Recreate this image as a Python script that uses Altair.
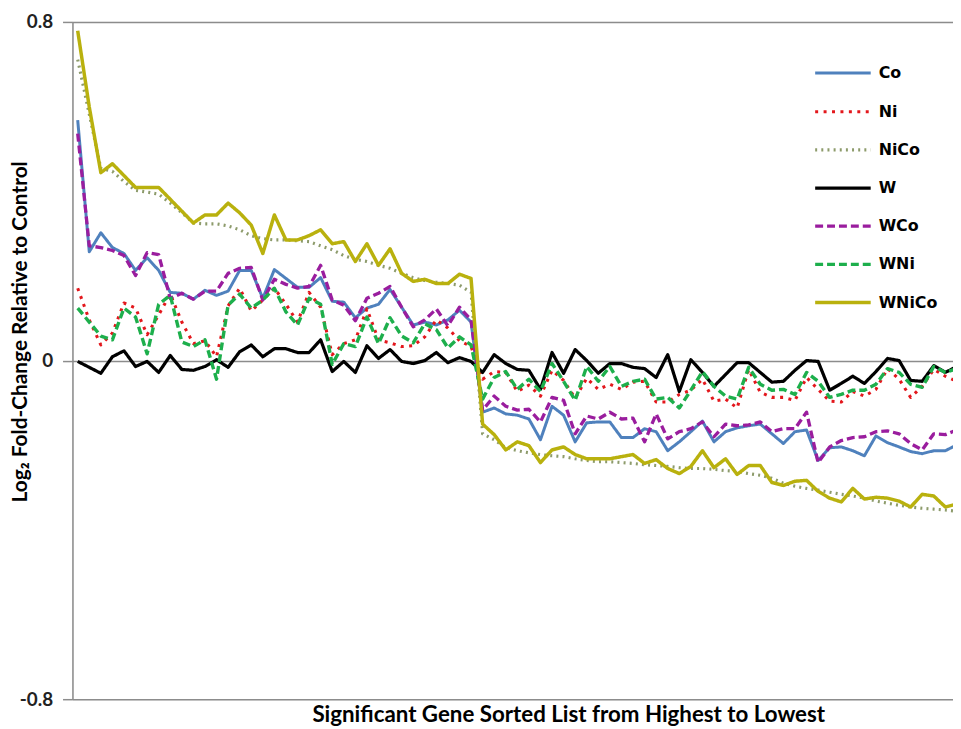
import altair as alt
import pandas as pd

series_names = ["Co", "Ni", "NiCo", "W", "WCo", "WNi", "WNiCo"]
gene_rank = list(range(77))

co = [0.568, 0.257, 0.302, 0.267, 0.253, 0.213, 0.243, 0.213, 0.161, 0.159,
      0.145, 0.166, 0.154, 0.164, 0.213, 0.213, 0.147, 0.215, 0.194, 0.173,
      0.173, 0.196, 0.140, 0.138, 0.101, 0.124, 0.133, 0.168, 0.126, 0.084,
      0.091, 0.084, 0.096, 0.119, 0.091, -0.122, -0.112, -0.126, -0.129, -0.138,
      -0.187, -0.108, -0.129, -0.192, -0.147, -0.145, -0.145, -0.182, -0.182, -0.161,
      -0.168, -0.213, -0.192, -0.168, -0.143, -0.192, -0.168, -0.159, -0.154, -0.150,
      -0.173, -0.196, -0.168, -0.164, -0.236, -0.206, -0.204, -0.213, -0.225, -0.178,
      -0.194, -0.204, -0.215, -0.220, -0.213, -0.213, -0.199]

ni = [0.171, 0.096, 0.037, 0.065, 0.136, 0.124, 0.061, 0.108, 0.157, 0.091,
      0.040, 0.047, 0.009, 0.129, 0.171, 0.117, 0.143, 0.171, 0.133, 0.091,
      0.161, 0.126, 0.014, 0.040, 0.049, 0.122, 0.049, 0.042, 0.033, 0.035,
      0.056, 0.096, 0.077, 0.047, 0.033, -0.044, -0.026, -0.028, -0.073, -0.058,
      -0.084, -0.023, -0.047, -0.089, -0.042, -0.068, -0.056, -0.068, -0.051, -0.049,
      -0.098, -0.098, -0.080, -0.070, -0.044, -0.096, -0.091, -0.112, -0.021, -0.075,
      -0.087, -0.087, -0.094, -0.040, -0.068, -0.096, -0.098, -0.073, -0.084, -0.068,
      -0.019, -0.044, -0.087, -0.061, -0.021, -0.037, -0.049]

nico = [0.711, 0.582, 0.454, 0.447, 0.423, 0.402, 0.398, 0.393, 0.372, 0.349,
        0.325, 0.323, 0.323, 0.318, 0.309, 0.295, 0.288, 0.285, 0.285, 0.283,
        0.281, 0.271, 0.262, 0.248, 0.239, 0.234, 0.225, 0.218, 0.206, 0.196,
        0.189, 0.185, 0.182, 0.178, 0.161, -0.173, -0.187, -0.206, -0.213, -0.218,
        -0.222, -0.225, -0.227, -0.232, -0.236, -0.239, -0.239, -0.241, -0.243, -0.246,
        -0.248, -0.250, -0.253, -0.255, -0.255, -0.257, -0.260, -0.262, -0.267, -0.271,
        -0.278, -0.290, -0.297, -0.302, -0.306, -0.311, -0.316, -0.320, -0.325, -0.332,
        -0.337, -0.342, -0.346, -0.349, -0.351, -0.353, -0.356]

w = [-0.002, -0.016, -0.030, 0.009, 0.023, -0.014, -0.002, -0.028, 0.012, -0.021,
     -0.023, -0.014, 0.002, -0.016, 0.021, 0.037, 0.009, 0.028, 0.028, 0.019,
     0.019, 0.049, -0.026, -0.002, -0.028, 0.035, 0.005, 0.026, -0.002, -0.007,
     0.000, 0.019, -0.005, 0.007, -0.002, -0.028, 0.014, -0.007, -0.021, -0.023,
     -0.068, 0.019, -0.030, 0.026, 0.000, -0.030, -0.007, -0.007, -0.016, -0.019,
     -0.040, 0.014, -0.073, 0.002, -0.028, -0.061, -0.033, -0.005, -0.005, -0.028,
     -0.051, -0.049, -0.023, 0.000, -0.002, -0.070, -0.054, -0.037, -0.054, -0.026,
     0.005, 0.000, -0.047, -0.049, -0.012, -0.028, -0.014]

wco = [0.536, 0.271, 0.267, 0.260, 0.248, 0.201, 0.255, 0.250, 0.147, 0.159,
       0.145, 0.164, 0.164, 0.206, 0.218, 0.220, 0.143, 0.192, 0.180, 0.171,
       0.175, 0.225, 0.143, 0.131, 0.094, 0.147, 0.159, 0.175, 0.126, 0.080,
       0.096, 0.122, 0.082, 0.126, 0.096, -0.117, -0.084, -0.108, -0.117, -0.115,
       -0.145, -0.087, -0.094, -0.173, -0.131, -0.138, -0.122, -0.138, -0.136, -0.192,
       -0.126, -0.185, -0.168, -0.161, -0.145, -0.180, -0.150, -0.154, -0.152, -0.145,
       -0.168, -0.161, -0.161, -0.122, -0.241, -0.204, -0.189, -0.182, -0.180, -0.168,
       -0.166, -0.173, -0.196, -0.211, -0.173, -0.175, -0.164]

wni = [0.124, 0.091, 0.058, 0.049, 0.124, 0.103, 0.016, 0.133, 0.154, 0.044,
       0.033, 0.049, -0.044, 0.131, 0.157, 0.124, 0.143, 0.171, 0.115, 0.084,
       0.147, 0.133, -0.009, 0.040, 0.033, 0.103, 0.040, 0.101, 0.058, 0.042,
       0.087, 0.073, 0.030, 0.056, 0.037, -0.091, -0.040, -0.026, -0.068, -0.044,
       -0.073, -0.007, -0.049, -0.094, -0.014, -0.049, -0.014, -0.061, -0.049, -0.044,
       -0.091, -0.087, -0.112, -0.070, -0.026, -0.061, -0.084, -0.091, -0.016, -0.056,
       -0.070, -0.068, -0.080, -0.028, -0.049, -0.087, -0.080, -0.070, -0.070, -0.056,
       -0.019, -0.028, -0.056, -0.063, -0.014, -0.028, -0.019]

wnico = [0.779, 0.599, 0.444, 0.465, 0.437, 0.409, 0.409, 0.409, 0.381, 0.353,
         0.325, 0.344, 0.344, 0.372, 0.349, 0.320, 0.253, 0.344, 0.285, 0.285,
         0.295, 0.309, 0.276, 0.281, 0.234, 0.276, 0.225, 0.264, 0.206, 0.187,
         0.192, 0.182, 0.182, 0.204, 0.194, -0.150, -0.175, -0.211, -0.192, -0.201,
         -0.241, -0.211, -0.204, -0.222, -0.232, -0.232, -0.232, -0.227, -0.222, -0.243,
         -0.234, -0.255, -0.267, -0.250, -0.213, -0.253, -0.232, -0.269, -0.248, -0.248,
         -0.288, -0.295, -0.285, -0.283, -0.309, -0.325, -0.334, -0.302, -0.327, -0.323,
         -0.325, -0.332, -0.346, -0.316, -0.320, -0.346, -0.339]

y_ticks = [-0.8, 0, 0.8]
y_tick_labels = ["-0.8", "0", "0.8"]

colors = ["#4F81BD", "#E3171C", "#8D9B6B", "#000000", "#9A1D9E", "#1DAF4C", "#B9B10E"]
dashes = [[1, 0], [3, 5.5], [2, 4.2], [1, 0], [8, 4], [8, 4], [1, 0]]
widths = [3, 3.5, 2.5, 3, 3, 3, 3]

rows = []
for name, vals in zip(series_names, [co, ni, nico, w, wco, wni, wnico]):
    for r, v in zip(gene_rank, vals):
        rows.append({"rank": r, "series": name, "log2fc": v})
df = pd.DataFrame(rows)

label_expr = " : ".join(
    [f"datum.value == {v} ? '{t}'" for v, t in zip(y_ticks, y_tick_labels)]
) + " : ''"

legend = alt.Legend(
    title=None, orient="none", legendX=783, legendY=40,
    symbolType="M-4.6,0H1", symbolSize=400, symbolStrokeWidth=3,
    labelFont="DejaVu Sans", labelFontSize=16, labelFontWeight="bold",
    labelColor="#000000", labelOffset=6, rowPadding=18.5, padding=0,
    labelLimit=200,
)

chart = alt.Chart(df).mark_line(clip=True, strokeJoin="round").encode(
    x=alt.X(
        "rank:Q",
        scale=alt.Scale(domain=[-0.454, 75.66], nice=False, zero=False),
        axis=alt.Axis(
            title="Significant Gene Sorted List from Highest to Lowest",
            labels=False, ticks=False, domain=False, grid=False,
            titleFont="Lato", titleFontSize=22.5, titleFontWeight="bold",
            titleColor="#000000", titleX=500, titleY=22,
            titleAlign="center", titleBaseline="alphabetic",
        ),
    ),
    y=alt.Y(
        "log2fc:Q",
        scale=alt.Scale(domain=[-0.8, 0.8], nice=False),
        axis=alt.Axis(
            title="Log\u2082 Fold-Change Relative to Control",
            values=y_ticks, labelExpr=label_expr,
            labelFont="Lato", labelFontSize=19, labelFontWeight="bold",
            labelColor="#222222", labelPadding=10,
            tickSize=10, tickColor="#8C8C8C", tickWidth=1.5,
            domainColor="#8C8C8C", domainWidth=1.5,
            grid=True, gridColor="#8C8C8C", gridWidth=1.5,
            titleFont="Lato", titleFontSize=21, titleFontWeight="bold",
            titleColor="#000000", titleX=-52, titleY=312, titleAngle=270,
            titleAlign="center", titleBaseline="middle",
        ),
    ),
    color=alt.Color("series:N", scale=alt.Scale(domain=series_names, range=colors), legend=legend),
    strokeDash=alt.StrokeDash("series:N", scale=alt.Scale(domain=series_names, range=dashes), legend=legend),
    strokeWidth=alt.StrokeWidth("series:N", scale=alt.Scale(domain=series_names, range=widths), legend=None),
).properties(
    width=888, height=683,
    autosize=alt.AutoSizeParams(type="none"),
    padding={"left": 65, "top": 11, "right": 0, "bottom": 27},
).configure_view(strokeWidth=0).configure(background="white")

chart.save("out.html", embed_options={"renderer": "svg", "actions": False})
